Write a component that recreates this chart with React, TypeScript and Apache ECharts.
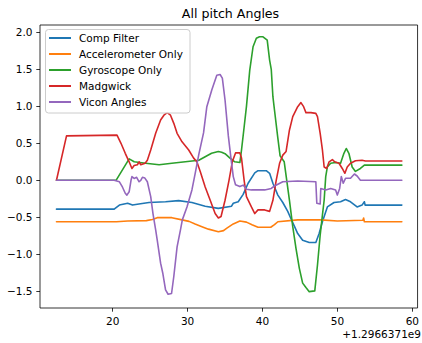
import React, { useEffect, useRef } from "react";
import * as echarts from "echarts";

const FONT = '"DejaVu Sans", sans-serif';

const seriesNames = ["Comp Filter", "Accelerometer Only", "Gyroscope Only", "Madgwick", "Vicon Angles"];
const seriesColors = ["#1f77b4", "#ff7f0e", "#2ca02c", "#d62728", "#9467bd"];

const chartTitle = "All pitch Angles";
const xTicks = [20, 30, 40, 50, 60];
const yTicks = [-1.5, -1.0, -0.5, 0, 0.5, 1.0, 1.5, 2.0];
const xOffsetLabel = "+1.2966371e9";

// [time in s relative to the offset, pitch angle]
const compFilter: [number, number][] = [
  [12.5, -0.39], [20.2, -0.39], [20.9, -0.335], [22.0, -0.31], [22.65, -0.335], [23.5, -0.32],
  [24.85, -0.3], [27.06, -0.29], [28.8, -0.275], [30.58, -0.3], [32.35, -0.35], [34.1, -0.38],
  [35.87, -0.35], [36.1, -0.31], [36.76, -0.29], [37.42, -0.19], [38.08, -0.04], [38.97, 0.1],
  [39.4, 0.13], [40.5, 0.13], [40.95, 0.095], [41.39, -0.04], [42.05, -0.2], [42.71, -0.3],
  [43.37, -0.42], [43.8, -0.52], [44.3, -0.63], [44.7, -0.72], [45.36, -0.81], [46.24, -0.84],
  [47.12, -0.84], [47.56, -0.72], [48.0, -0.56], [48.3, -0.47], [48.66, -0.36], [49.55, -0.3],
  [50.42, -0.29], [51.08, -0.26], [51.75, -0.29], [52.63, -0.36], [53.29, -0.335], [53.6, -0.29],
  [53.7, -0.335], [58.6, -0.335],
];

const accelOnly: [number, number][] = [
  [12.5, -0.56], [20.5, -0.56], [22.0, -0.55], [24.5, -0.545], [25.3, -0.53], [25.95, -0.505],
  [27.9, -0.505], [29.26, -0.535], [30.2, -0.555], [31.0, -0.59], [32.0, -0.63], [32.79, -0.66],
  [34.11, -0.695], [34.8, -0.68], [35.2, -0.65], [36.1, -0.59], [36.98, -0.55], [37.86, -0.565],
  [38.6, -0.6], [39.4, -0.635], [41.1, -0.635], [41.6, -0.6], [42.05, -0.56], [44.7, -0.535],
  [47.8, -0.535], [49.99, -0.55], [53.4, -0.54], [53.5, -0.51], [53.6, -0.56], [58.6, -0.56],
];

const gyroOnly: [number, number][] = [
  [12.5, 0], [20.45, 0], [22.2, 0.29], [22.87, 0.25], [24.4, 0.23], [26.2, 0.21], [27.9, 0.23],
  [29.7, 0.25], [31.5, 0.27], [33.2, 0.365], [34.1, 0.39], [34.55, 0.38], [35.0, 0.36],
  [35.66, 0.3], [36.3, 0.25], [36.98, 0.24], [37.2, 0.41], [37.55, 0.72], [37.86, 1.0],
  [38.3, 1.49], [38.74, 1.805], [39.18, 1.92], [39.6, 1.94], [40.07, 1.94], [40.63, 1.895],
  [40.95, 1.625], [41.17, 1.5], [41.39, 1.13], [41.6, 0.95], [42.05, 0.57], [42.35, 0.33],
  [42.9, 0.25], [43.6, -0.27], [44.03, -0.62], [44.47, -0.92], [44.92, -1.19], [45.36, -1.39],
  [45.8, -1.45], [46.24, -1.505], [46.98, -1.495], [47.34, -1.145], [47.7, -0.74], [48.0, -0.47],
  [48.23, -0.27], [48.44, 0.05], [48.66, 0.18], [49.1, 0.23], [49.76, 0.24], [50.42, 0.23],
  [50.87, 0.365], [51.18, 0.43], [51.53, 0.365], [51.97, 0.18], [52.41, 0.12], [53.07, 0.16],
  [53.6, 0.205], [58.6, 0.205],
];

const madgwick: [number, number][] = [
  [12.5, 0], [13.84, 0.6], [20.58, 0.61], [21.11, 0.5], [21.68, 0.365], [22.2, 0.25], [22.57, 0.16],
  [22.87, 0.2], [23.3, 0.21], [23.53, 0.25], [23.75, 0.21], [24.33, 0.23], [24.63, 0.27],
  [25.08, 0.41], [25.74, 0.635], [26.4, 0.815], [26.84, 0.88], [27.28, 0.915], [27.72, 0.88],
  [28.16, 0.77], [28.6, 0.635], [29.26, 0.52], [30.15, 0.41], [30.81, 0.3], [31.24, 0.25],
  [31.69, 0.12], [32.35, -0.09], [33.02, -0.27], [33.68, -0.45], [34.11, -0.51], [34.47, -0.49],
  [35.0, -0.27], [35.53, 0.0], [35.97, 0.25], [36.4, 0.37], [36.98, 0.37], [37.2, 0.3],
  [37.55, 0.0], [37.86, -0.22], [38.52, -0.36], [38.97, -0.45], [39.4, -0.4], [40.29, -0.4],
  [40.95, -0.42], [41.39, -0.27], [41.83, 0.0], [42.28, 0.23], [42.71, 0.34], [43.15, 0.39],
  [43.6, 0.68], [44.04, 0.86], [44.7, 0.995], [45.13, 1.05], [45.49, 0.995], [45.8, 0.915],
  [46.46, 0.915], [47.12, 0.905], [47.34, 0.86], [47.7, 0.635], [48.0, 0.41], [48.23, 0.18],
  [48.57, 0.16], [48.89, 0.25], [49.33, 0.28], [49.63, 0.25], [50.21, 0.23], [50.65, 0.16],
  [51.0, 0.095], [51.31, 0.18], [51.75, 0.23], [52.41, 0.265], [53.29, 0.27], [53.73, 0.26],
  [58.6, 0.26],
];

const viconAngles: [number, number][] = [
  [12.5, 0], [20.2, 0], [20.9, -0.02], [21.3, -0.09], [21.68, -0.175], [21.9, -0.2], [22.2, -0.155],
  [22.45, 0.0], [22.57, 0.05], [22.87, 0.025], [23.2, 0.04], [23.53, -0.02], [23.75, 0.0],
  [23.97, 0.04], [24.3, 0.03], [24.63, -0.02], [25.08, -0.22], [25.38, -0.45], [25.74, -0.67],
  [25.95, -0.81], [26.4, -1.12], [26.7, -1.26], [27.06, -1.48], [27.4, -1.54], [27.86, -1.53],
  [28.16, -1.3], [28.6, -0.9], [29.05, -0.67], [29.3, -0.535], [29.92, -0.36], [30.58, -0.13],
  [31.03, 0.1], [31.5, 0.35], [32.13, 0.64], [32.57, 0.995], [33.23, 1.22], [33.9, 1.42],
  [34.34, 1.43], [34.64, 1.38], [35.0, 1.085], [35.44, 0.6], [35.79, 0.3], [36.1, 0.05],
  [36.4, -0.06], [36.98, -0.085], [37.42, -0.065], [37.86, -0.12], [38.52, -0.13], [40.29, -0.13],
  [41.17, -0.11], [41.6, -0.077], [42.71, -0.02], [44.7, -0.01], [47.12, -0.02], [47.25, -0.31],
  [47.7, -0.32], [47.78, -0.11], [48.44, -0.13], [49.1, -0.11], [49.76, -0.13], [49.99, -0.2],
  [50.3, -0.11], [50.52, 0.05], [50.78, -0.04], [51.08, 0.027], [51.75, 0.027], [52.27, 0.085],
  [52.63, 0.058], [53.07, 0.0], [58.6, 0.0],
];

const seriesData = [compFilter, accelOnly, gyroOnly, madgwick, viconAngles];

const fmtTick = (v: number) => (v < 0 ? "\u2212" : "") + Math.abs(v).toFixed(1);

export default function App() {
  const ref = useRef<HTMLDivElement>(null);

  useEffect(() => {
    if (!ref.current) return;
    const chart = echarts.init(ref.current, undefined, { renderer: "svg" });
    const left = 40;
    const right = 1;
    const top = 25;
    const bottom = 35;
    const width = 422;
    const plotCenter = left + (width - left - right) / 2;

    chart.setOption({
      animation: false,
      backgroundColor: "#ffffff",
      textStyle: { fontFamily: FONT },
      grid: {
        left,
        right,
        top,
        bottom,
        show: true,
        borderColor: "#000000",
        borderWidth: 0.8,
        backgroundColor: "transparent",
      },
      graphic: [
        {
          type: "text",
          x: plotCenter,
          y: 13.3,
          style: {
            text: chartTitle,
            align: "center",
            verticalAlign: "middle",
            fontFamily: FONT,
            fontSize: 12.6,
            fill: "#000000",
          },
        },
        {
          type: "text",
          x: width - right,
          y: 334,
          style: {
            text: xOffsetLabel,
            align: "right",
            verticalAlign: "middle",
            fontFamily: FONT,
            fontSize: 10.5,
            fill: "#000000",
          },
        },
        // legend frame
        {
          type: "rect",
          z: 10,
          shape: { x: 45.5, y: 29.5, width: 144.5, height: 83.5, r: 3 },
          style: { fill: "rgba(255,255,255,0.8)", stroke: "#cccccc", lineWidth: 1 },
        },
      ],
      legend: {
        orient: "vertical",
        left: 46,
        top: 29,
        z: 11,
        padding: [3, 6, 5, 3],
        itemGap: 4,
        itemWidth: 25,
        itemHeight: 2,
        icon: "path://M0,0H22V2H0Z M24.9,0.95H25V1.05H24.9Z",
        selectedMode: false,
        backgroundColor: "transparent",
        borderWidth: 0,
        textStyle: { fontFamily: FONT, fontSize: 10.5, color: "#000000", lineHeight: 12 },
        data: seriesNames,
      },
      xAxis: {
        type: "value",
        min: 10.3,
        max: 60.7,
        axisLine: { show: false, onZero: false },
        splitLine: { show: false },
        axisTick: {
          show: true,
          length: 3.7,
          customValues: xTicks,
          lineStyle: { color: "#000000", width: 0.8 },
        },
        axisLabel: {
          customValues: xTicks,
          margin: 7,
          fontFamily: FONT,
          fontSize: 10.5,
          color: "#000000",
          formatter: (v: number) => String(v),
        },
      },
      yAxis: {
        type: "value",
        min: -1.726,
        max: 2.099,
        axisLine: { show: false, onZero: false },
        splitLine: { show: false },
        axisTick: {
          show: true,
          length: 3.7,
          customValues: yTicks,
          lineStyle: { color: "#000000", width: 0.8 },
        },
        axisLabel: {
          customValues: yTicks,
          margin: 7.5,
          fontFamily: FONT,
          fontSize: 10.5,
          color: "#000000",
          formatter: fmtTick,
        },
      },
      series: seriesNames.map((name, i) => ({
        name,
        type: "line",
        data: seriesData[i],
        showSymbol: false,
        symbol: "none",
        color: seriesColors[i],
        lineStyle: { width: 1.6, color: seriesColors[i], join: "round", cap: "round" },
        emphasis: { disabled: true },
        z: 2 + i,
      })),
    });

    return () => chart.dispose();
  }, []);

  return (
    <div
      ref={ref}
      style={{ position: "fixed", left: 0, top: 0, width: 422, height: 343, background: "#fff" }}
    />
  );
}
